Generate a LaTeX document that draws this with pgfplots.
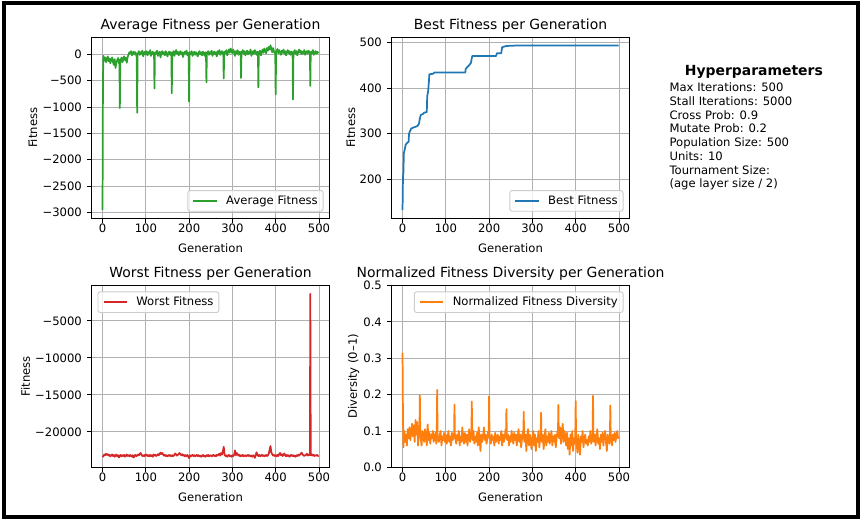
\documentclass[border=0pt]{standalone}
\usepackage{fontspec}
\setmainfont{DejaVu Sans}
\usepackage{pgfplots}
\pgfplotsset{compat=1.18}
\definecolor{mplgreen}{HTML}{2CA02C}
\definecolor{mplblue}{HTML}{1F77B4}
\definecolor{mplred}{HTML}{D62728}
\definecolor{mplorange}{HTML}{FF7F0E}
\definecolor{mplgrid}{HTML}{B0B0B0}
\definecolor{mpllegend}{HTML}{CCCCCC}
\def\mm{{\char"2212}}
\newcommand{\tickfont}{\fontsize{8.7}{10.4}\selectfont}
\newcommand{\titlefont}{\fontsize{10.45}{12.5}\selectfont}
\pgfplotsset{
  mplaxis/.style={
    scale only axis, anchor=south west,
    width=178.2pt,
    axis line style={line width=0.7pt, black},
    grid=major, major grid style={mplgrid, line width=0.7pt},
    tick align=outside, major tick length=3.5pt,
    every tick/.style={black, line width=0.7pt},
    xtick pos=bottom, ytick pos=left,
    minor tick num=0,
    tick label style={font=\tickfont},
    xticklabel style={anchor=north, inner sep=0pt},
    yticklabel style={anchor=east, inner sep=0pt},
    xticklabel shift=0.5pt, yticklabel shift=3.7pt,
    label style={font=\tickfont},
    title style={font=\titlefont, at={(axis description cs:0.5,1)}, anchor=base, yshift=0.3pt},
    xlabel style={at={(axis description cs:0.5,0)}, anchor=base, yshift=-25.8pt},
    xmin=-24.95, xmax=523.95, xtick={0,100,200,300,400,500},
    /pgf/number format/assume math mode=true,
    scaled ticks=false,
    xlabel={Generation},
    legend cell align=left,
    legend image code/.code={\draw[#1, line width=1.4pt] (0pt,0pt) -- (17.4pt,0pt);},
    legend style={font=\tickfont, draw=mpllegend, fill=white, fill opacity=0.8, text opacity=1,
      rounded corners=1.7pt, line width=0.7pt, inner xsep=3.5pt, inner ysep=3pt,
      column sep=6pt,
      nodes={inner sep=0.5pt, text height=6.6pt, text depth=1.9pt}},
    every axis plot/.append style={line width=1.3pt, line join=round},
  }
}
\begin{document}
\begin{tikzpicture}
\path[use as bounding box] (0,0) rectangle (646.5pt,390pt);
\fill[white] (0,0) rectangle (646.5pt,390pt);

% ---------------- Average fitness ----------------
\begin{axis}[mplaxis, at={(68.8pt,226.5pt)}, height=135.2pt,
  title={Average Fitness per Generation}, ylabel={Fitness},
  ylabel style={at={(axis description cs:-0.230,0.5)}, anchor=base},
  ymin=-3108, ymax=315,
  ytick={-3000,-2500,-2000,-1500,-1000,-500,0},
  yticklabels={\mm3000,\mm2500,\mm2000,\mm1500,\mm1000,\mm500,0},
  legend style={at={(axis description cs:0.9756,0.0350)}, anchor=south east}]
\addplot[mplgreen] coordinates {
(0,-2960) (1,-460) (2,-30) (4,-120) (6,-60) (8,-150) (10,-90) (12,-40) (14,-130) (16,-80) (18,-170)
(20,-100) (22,-60) (24,-140) (26,-200) (28,-90) (30,-260) (32,-150) (34,-110) (36,-70) (38,-180)
(39,-110) (40,-1020) (41,-100) (42,-120) (44,-60) (46,-150) (48,-90) (50,-40) (52,-110) (54,-70) (56,-160) (58,-50)
(60,-10) (62,40) (64,20) (66,60) (68,-20) (70,30) (72,50) (74,0) (76,40) (78,-30)
(79,10) (80,-1110) (81,20) (82,20) (84,60) (86,-10) (88,40) (90,10) (92,70) (94,-40) (96,30) (98,50)
(100,0) (102,60) (104,-20) (106,40) (108,20) (110,80) (112,-30) (114,30) (116,50) (118,-10)
(119,20) (120,-650) (121,30) (122,40) (124,10) (126,70) (128,-30) (130,20) (132,50) (134,-60) (136,30) (138,60)
(140,0) (142,40) (144,-20) (146,60) (148,20) (150,-40) (152,30) (154,50) (156,-10) (158,40)
(159,20) (160,-740) (161,30) (162,10) (164,60) (166,-30) (168,40) (170,80) (172,10) (174,50) (176,-20) (178,30)
(180,60) (182,0) (184,40) (186,-50) (188,20) (190,50) (192,10) (194,70) (196,-20) (198,30)
(199,20) (200,-900) (201,30) (202,40) (204,0) (206,60) (208,-30) (210,20) (212,50) (214,-10) (216,40) (218,10)
(220,-40) (222,30) (224,60) (226,0) (228,40) (230,-20) (232,50) (234,20) (236,-30) (238,40)
(239,20) (240,-530) (241,30) (242,20) (244,60) (246,-10) (248,40) (250,10) (252,70) (254,-30) (256,30) (258,50)
(260,0) (262,40) (264,-40) (266,60) (268,20) (270,80) (272,-10) (274,40) (276,60) (278,10)
(279,30) (280,-460) (281,40) (282,50) (284,20) (286,80) (288,-20) (290,40) (292,90) (294,30) (296,110) (298,60)
(300,20) (302,90) (304,40) (306,-30) (308,60) (310,20) (312,80) (314,-10) (316,50) (318,30)
(319,40) (320,-450) (321,50) (322,40) (324,80) (326,10) (328,60) (330,-20) (332,40) (334,70) (336,0) (338,50)
(340,20) (342,90) (344,-30) (346,40) (348,60) (350,10) (352,80) (354,30) (356,-10) (358,50)
(359,30) (360,-630) (361,40) (362,20) (364,70) (366,-20) (368,40) (370,90) (372,30) (374,110) (376,60) (378,20)
(380,120) (382,70) (384,140) (386,90) (388,170) (390,100) (392,40) (394,120) (396,60) (398,20)
(399,40) (400,-760) (401,50) (402,60) (404,100) (406,20) (408,80) (410,40) (412,-10) (414,70) (416,30) (418,90)
(420,10) (422,60) (424,-20) (426,40) (428,80) (430,20) (432,60) (434,-10) (436,50) (438,30)
(439,40) (440,-860) (441,30) (442,40) (444,80) (446,10) (448,60) (450,-20) (452,40) (454,90) (456,30) (458,70)
(460,0) (462,50) (464,20) (466,80) (468,-10) (470,40) (472,60) (474,10) (476,70) (478,30)
(479,40) (480,-600) (481,30) (482,50) (484,20) (486,80) (488,-10) (490,40) (492,60) (494,10) (496,50) (498,30) (499,20)
};
\addlegendentry{Average Fitness}
\end{axis}

% ---------------- Best fitness ----------------
\begin{axis}[mplaxis, at={(293.8pt,226.5pt)}, height=135.2pt,
  title={Best Fitness per Generation}, ylabel={Fitness},
  ylabel style={at={(axis description cs:-0.154,0.5)}, anchor=base},
  ymin=115.3, ymax=510,
  ytick={200,300,400,500}, yticklabels={200,300,400,500},
  legend style={at={(axis description cs:0.9756,0.0350)}, anchor=south east}]
\addplot[mplblue] coordinates {
(0,133) (1,205) (2,215) (3,257) (5,265) (7,275) (9,278) (12,281) (14,282) (15,300) (17,305) (20,311)
(24,313) (30,315) (35,317) (38,322) (40,333) (42,341) (47,343) (50,346) (56,347) (57,382) (59,392)
(61,415) (62,430) (70,431) (74,434) (100,434) (145,434) (146,442) (150,446) (154,450) (158,455)
(161,470) (170,470) (216,470) (218,476) (228,476) (230,489) (236,491) (241,492) (265,493) (499,493)
};
\addlegendentry{Best Fitness}
\end{axis}

% ---------------- Worst fitness ----------------
\begin{axis}[mplaxis, at={(68.8pt,39.5pt)}, height=136.3pt,
  title={Worst Fitness per Generation}, ylabel={Fitness},
  ylabel style={at={(axis description cs:-0.260,0.5)}, anchor=base},
  ymin=-24780, ymax=-245,
  ytick={-20000,-15000,-10000,-5000},
  yticklabels={\mm20000,\mm15000,\mm10000,\mm5000},
  legend style={at={(axis description cs:0.0244,0.9681)}, anchor=north west}]
\addplot[mplred] coordinates {
(0,-23400) (2,-23250) (4,-23050) (6,-23150) (8,-22950) (10,-23100) (12,-23000) (14,-23200) (16,-23100) (18,-23300)
(20,-23150) (22,-23050) (24,-23250) (26,-23100) (28,-23350) (30,-23200) (32,-23050) (34,-23300) (36,-23150) (38,-23450)
(40,-23200) (42,-23100) (44,-23300) (46,-23150) (48,-23250) (50,-23100) (52,-23350) (54,-23200) (56,-23050) (58,-23250)
(60,-23150) (62,-23300) (64,-23100) (66,-23250) (68,-23350) (70,-23150) (72,-23450) (74,-23200) (76,-23100) (78,-23300)
(80,-23200) (82,-23050) (84,-23150) (86,-22950) (88,-22850) (90,-23100) (92,-23250) (94,-23150) (96,-23300) (98,-23100)
(100,-23200) (102,-23050) (104,-23250) (106,-23150) (108,-23300) (110,-23100) (112,-23250) (114,-23150) (116,-23350) (118,-23050)
(120,-23200) (122,-23100) (124,-23250) (126,-23150) (128,-23000) (130,-23150) (132,-22950) (134,-22800) (136,-23000) (138,-22850)
(140,-23050) (142,-23200) (144,-23100) (146,-23250) (148,-23150) (150,-23300) (152,-23200) (154,-23100) (156,-23250) (158,-23150)
(160,-23300) (162,-23150) (164,-23250) (166,-23100) (168,-22900) (170,-23050) (172,-23200) (174,-23100) (176,-22950) (178,-22850)
(180,-23050) (182,-23150) (184,-23000) (186,-23200) (188,-23100) (190,-23300) (192,-23150) (194,-23250) (196,-23100) (198,-23350)
(200,-23550) (202,-23150) (204,-23300) (206,-23200) (208,-23100) (210,-23250) (212,-23150) (214,-23300) (216,-23200) (218,-23100)
(220,-23250) (222,-23150) (224,-23300) (226,-23200) (228,-23350) (230,-23250) (232,-23100) (234,-23300) (236,-23200) (238,-23350)
(240,-23150) (242,-23250) (244,-23100) (246,-23300) (248,-23200) (250,-23150) (252,-23300) (254,-23200) (256,-23100) (258,-23250)
(260,-23150) (262,-23300) (264,-23100) (266,-23200) (268,-23050) (270,-22950) (272,-23200) (274,-22850) (276,-23050) (278,-22650)
(280,-22000) (282,-23100) (284,-23250) (286,-23150) (288,-23350) (290,-23200) (292,-23100) (294,-23300) (296,-23200) (298,-23350)
(300,-23150) (302,-23250) (304,-23100) (306,-22500) (308,-23150) (310,-22850) (312,-23000) (314,-23200) (316,-23100) (318,-23300)
(320,-23150) (322,-23250) (324,-23100) (326,-23300) (328,-23200) (330,-23150) (332,-23300) (334,-23200) (336,-23100) (338,-23250)
(340,-23150) (342,-23300) (344,-23200) (346,-23350) (348,-23150) (350,-23250) (352,-23500) (354,-23100) (356,-22750) (358,-23150)
(360,-23250) (362,-23100) (364,-23300) (366,-23200) (368,-23100) (370,-23250) (372,-23150) (374,-23300) (376,-23200) (378,-23100)
(380,-23250) (382,-23150) (384,-22950) (386,-22400) (388,-21900) (390,-22800) (392,-23000) (394,-23200) (396,-23100) (398,-23250)
(400,-23150) (402,-23300) (404,-23100) (406,-23250) (408,-23000) (410,-22850) (412,-23150) (414,-23000) (416,-23250) (418,-23100)
(420,-22900) (422,-23150) (424,-23300) (426,-23100) (428,-23250) (430,-23150) (432,-23350) (434,-23200) (436,-23100) (438,-23250)
(440,-23150) (442,-23300) (444,-23200) (446,-23350) (448,-23150) (450,-23250) (452,-23100) (454,-23200) (456,-23050) (458,-22950)
(460,-22800) (462,-23050) (464,-23150) (466,-23250) (468,-23150) (470,-23100) (472,-22950) (474,-23200) (476,-23050) (478,-23150)
(479,-23100) (480,-1360) (481,-23150) (482,-23150) (484,-23050) (486,-23200) (488,-23100) (490,-23250) (492,-23150) (494,-23200) (496,-23100) (498,-23250) (499,-23200)
};
\addlegendentry{Worst Fitness}
\end{axis}

% ---------------- Diversity ----------------
\begin{axis}[mplaxis, at={(293.8pt,39.5pt)}, height=136.3pt,
  title={Normalized Fitness Diversity per Generation}, ylabel={Diversity (0–1)},
  ylabel style={at={(axis description cs:-0.147,0.5)}, anchor=base},
  ymin=0, ymax=0.5,
  ytick={0,0.1,0.2,0.3,0.4,0.5}, yticklabels={0.0,0.1,0.2,0.3,0.4,0.5},
  legend style={at={(axis description cs:0.9756,0.9681)}, anchor=north east}]
\addplot[mplorange] coordinates {
(0,0.315) (1,0.14) (2,0.055) (4,0.10) (6,0.07) (8,0.09) (10,0.06) (12,0.105) (14,0.08) (16,0.11) (18,0.075)
(20,0.095) (22,0.12) (24,0.085) (26,0.115) (28,0.07) (30,0.13) (32,0.09) (34,0.125) (36,0.06) (38,0.10)
(39,0.09) (40,0.198) (41,0.085) (42,0.08) (44,0.06) (46,0.10) (48,0.085) (50,0.07) (52,0.105) (54,0.09) (56,0.06) (58,0.118)
(60,0.075) (62,0.095) (64,0.065) (66,0.09) (68,0.08) (70,0.10) (72,0.07) (74,0.085) (76,0.095) (78,0.065)
(79,0.08) (80,0.213) (81,0.085) (82,0.08) (84,0.07) (86,0.09) (88,0.10) (90,0.06) (92,0.085) (94,0.075) (96,0.095) (98,0.07)
(100,0.09) (102,0.065) (104,0.08) (106,0.10) (108,0.07) (110,0.085) (112,0.06) (114,0.095) (116,0.075) (118,0.09)
(119,0.08) (120,0.173) (121,0.085) (122,0.08) (124,0.065) (126,0.09) (128,0.075) (130,0.10) (132,0.06) (134,0.085) (136,0.07) (138,0.11)
(140,0.08) (142,0.065) (144,0.095) (146,0.07) (148,0.09) (150,0.06) (152,0.085) (154,0.105) (156,0.07) (158,0.09)
(159,0.08) (160,0.181) (161,0.085) (162,0.075) (164,0.10) (166,0.065) (168,0.085) (170,0.07) (172,0.095) (174,0.06) (176,0.11) (178,0.08)
(180,0.045) (182,0.09) (184,0.07) (186,0.085) (188,0.11) (190,0.075) (192,0.09) (194,0.065) (196,0.08) (198,0.10)
(199,0.085) (200,0.195) (201,0.08) (202,0.08) (204,0.065) (206,0.09) (208,0.075) (210,0.085) (212,0.06) (214,0.095) (216,0.07) (218,0.08)
(220,0.09) (222,0.065) (224,0.085) (226,0.075) (228,0.10) (230,0.06) (232,0.09) (234,0.07) (236,0.08) (238,0.105)
(239,0.085) (240,0.160) (241,0.08) (242,0.075) (244,0.09) (246,0.06) (248,0.085) (250,0.07) (252,0.10) (254,0.08) (256,0.065) (258,0.095)
(260,0.075) (262,0.09) (264,0.06) (266,0.085) (268,0.105) (270,0.07) (272,0.09) (274,0.055) (276,0.08) (278,0.10)
(279,0.08) (280,0.153) (281,0.075) (282,0.07) (284,0.09) (286,0.045) (288,0.085) (290,0.105) (292,0.06) (294,0.09) (296,0.07) (298,0.05)
(300,0.085) (302,0.10) (304,0.06) (306,0.09) (308,0.045) (310,0.08) (312,0.07) (314,0.10) (316,0.055) (318,0.085)
(319,0.08) (320,0.150) (321,0.075) (322,0.07) (324,0.09) (326,0.05) (328,0.08) (330,0.105) (332,0.06) (334,0.085) (336,0.07) (338,0.095)
(340,0.065) (342,0.08) (344,0.10) (346,0.06) (348,0.085) (350,0.07) (352,0.09) (354,0.055) (356,0.08) (358,0.10)
(359,0.09) (360,0.172) (361,0.085) (362,0.08) (364,0.11) (366,0.065) (368,0.09) (370,0.12) (372,0.07) (374,0.10) (376,0.085) (378,0.06)
(380,0.095) (382,0.05) (384,0.08) (386,0.035) (388,0.09) (390,0.06) (392,0.10) (394,0.045) (396,0.08) (398,0.065)
(399,0.08) (400,0.183) (401,0.075) (402,0.07) (404,0.04) (406,0.09) (408,0.06) (410,0.035) (412,0.085) (414,0.07) (416,0.10) (418,0.055)
(420,0.08) (422,0.09) (424,0.065) (426,0.075) (428,0.06) (430,0.085) (432,0.07) (434,0.10) (436,0.065) (438,0.08)
(439,0.075) (440,0.197) (441,0.08) (442,0.07) (444,0.09) (446,0.06) (448,0.085) (450,0.105) (452,0.065) (454,0.08) (456,0.05) (458,0.09)
(460,0.07) (462,0.095) (464,0.06) (466,0.085) (468,0.10) (470,0.07) (472,0.045) (474,0.09) (476,0.075) (478,0.065)
(479,0.08) (480,0.170) (481,0.085) (482,0.08) (484,0.06) (486,0.09) (488,0.075) (490,0.095) (492,0.07) (494,0.085) (496,0.10) (498,0.08) (499,0.085)
};
\addlegendentry{Normalized Fitness Diversity}
\end{axis}

% ---------------- Hyperparameters text ----------------
\node[anchor=base, font=\fontsize{10.45}{12.5}\selectfont\bfseries] at (565.4pt,333.2pt) {Hyperparameters};
\begin{scope}[every node/.style={anchor=base west, inner sep=0pt, font=\tickfont}]
\node at (502pt,321.2pt) {Max Iterations: 500};
\node at (502pt,310.9pt) {Stall Iterations: 5000};
\node at (502pt,300.6pt) {Cross Prob: 0.9};
\node at (502pt,290.3pt) {Mutate Prob: 0.2};
\node at (502pt,280.0pt) {Population Size: 500};
\node at (502pt,269.7pt) {Units: 10};
\node at (502pt,259.4pt) {Tournament Size:};
\node at (502pt,249.1pt) {(age layer size / 2)};
\end{scope}

\draw[line width=3pt, black] (3pt,2.25pt) rectangle (643.5pt,387.4pt);
\end{tikzpicture}
\end{document}
